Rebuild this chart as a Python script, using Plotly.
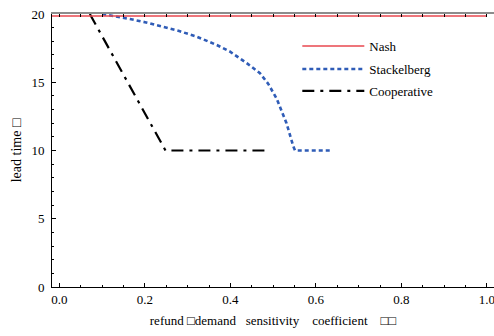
import plotly.graph_objects as go

# ---- data ----
x_min, x_max = -0.0175, 1.0164
nash_x = [-0.0175, 1.0]
nash_y = [19.85, 19.85]

stack_x = [0.10, 0.13, 0.165, 0.20, 0.242, 0.28, 0.321, 0.368, 0.399, 0.438, 0.469, 0.488, 0.508, 0.531, 0.547, 0.551, 0.637]
stack_y = [20.0, 19.85, 19.63, 19.40, 19.07, 18.75, 18.34, 17.73, 17.24, 16.4, 15.66, 14.9, 13.8, 12.0, 10.3, 10.0, 10.0]

coop_x = [0.071, 0.248, 0.492]
coop_y = [20.0, 10.0, 10.0]

x_ticks = [0.0, 0.2, 0.4, 0.6, 0.8, 1.0]
x_tick_text = ["0.0", "0.2", "0.4", "0.6", "0.8", "1.0"]
y_ticks = [0, 5, 10, 15, 20]

FONT = "Liberation Serif, Times New Roman, serif"

fig = go.Figure()
fig.add_trace(go.Scatter(x=nash_x, y=nash_y, mode="lines", name="Nash", showlegend=True,
                         line=dict(color="#e8474f", width=1.6), xaxis="x2", legend="legend"))
fig.add_trace(go.Scatter(x=stack_x, y=stack_y, mode="lines", name="Stackelberg",
                         line=dict(color="#2f5cb7", width=2.6, dash="4px,3px"), legend="legend2"))
fig.add_trace(go.Scatter(x=coop_x, y=coop_y, mode="lines", name="Cooperative",
                         line=dict(color="black", width=2.2, dash="12px,6px,3px,6px"), legend="legend3"))

leg_common = dict(font=dict(family=FONT, size=13, color="black"), bgcolor="rgba(0,0,0,0)",
                  xanchor="left", yanchor="middle", itemwidth=62)

fig.update_layout(
    width=494, height=336,
    showlegend=True,
    margin=dict(l=52, r=0, t=14, b=49),
    paper_bgcolor="white", plot_bgcolor="white",
    font=dict(family=FONT, size=13, color="black"),
    xaxis=dict(range=[x_min, x_max], showgrid=False, zeroline=False,
               showline=True, linecolor="black", linewidth=1,
               ticks="inside", ticklen=4, tickcolor="black",
               tickvals=x_ticks, ticktext=x_tick_text, ticklabeloverflow="allow",
               tickfont=dict(family=FONT, size=13),
               minor=dict(dtick=0.05, tick0=0, ticks="inside", ticklen=2, tickcolor="black"),
               title=dict(text="refund \u25a1demand   sensitivity    coefficient    \u25a1\u25a1",
                          font=dict(family=FONT, size=13), standoff=10)),
    xaxis2=dict(overlaying="x", matches="x", side="top", showgrid=False, zeroline=False,
                showline=True, linecolor="#8c8c8c", linewidth=2,
                ticks="inside", ticklen=3, tickcolor="black", dtick=0.05, tick0=0,
                showticklabels=False),
    yaxis=dict(range=[0, 20], showgrid=False, zeroline=False,
               showline=True, linecolor="black", linewidth=1,
               ticks="inside", ticklen=4, tickcolor="black", tickvals=y_ticks,
               tickfont=dict(family=FONT, size=13),
               minor=dict(dtick=1, ticks="inside", ticklen=2, tickcolor="black"),
               ticklabelstandoff=4,
               title=dict(text="lead time \u25a1", font=dict(family=FONT, size=14), standoff=6)),
    legend=dict(x=0.555, y=(336 - 49 - 46) / (336 - 63), **leg_common),
    legend2=dict(x=0.555, y=(336 - 49 - 69) / (336 - 63), **leg_common),
    legend3=dict(x=0.555, y=(336 - 49 - 91) / (336 - 63), **leg_common),
)

fig.write_html("out.html")
